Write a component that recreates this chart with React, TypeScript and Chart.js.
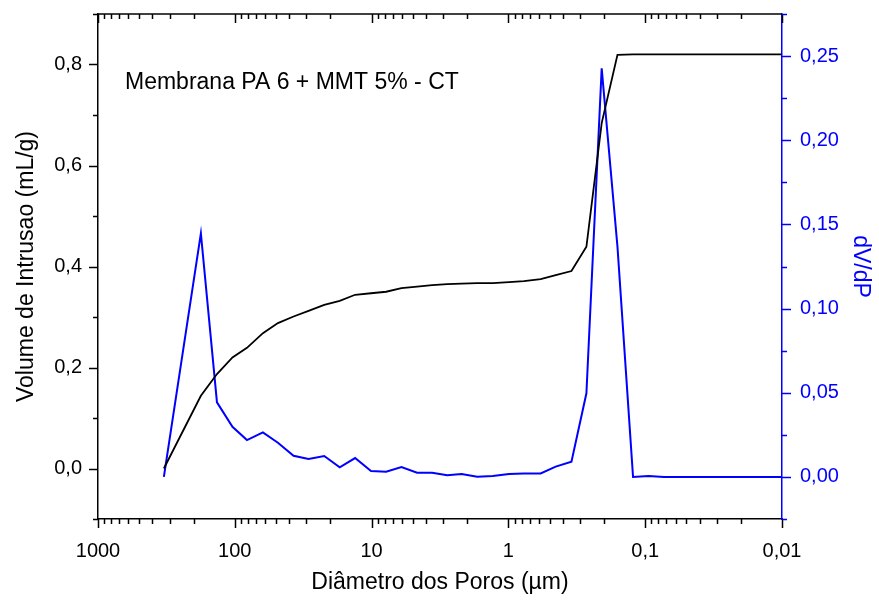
import React, { useEffect, useRef } from "react";
import { Chart, registerables } from "chart.js";

Chart.register(...registerables);

// Pore diameter (µm) for each measured point
const poreDiameters = [
  330, 177, 135, 104, 81.5, 62.3, 48.4, 37.2, 28.9, 22.2,
  17.1, 13.2, 10.1, 7.83, 6.05, 4.65, 3.61, 2.8, 2.2, 1.69,
  1.3, 0.99, 0.77, 0.581, 0.451, 0.346, 0.269, 0.208, 0.1595, 0.1227,
  0.0946, 0.0728, 0.056, 0.043, 0.033, 0.0255, 0.0196, 0.0151, 0.0116, 0.0101,
];

// Cumulative intrusion volume (mL/g)
const intrusionVolume = [
  0.0, 0.144, 0.187, 0.22, 0.239, 0.268, 0.288, 0.301, 0.312, 0.324,
  0.332, 0.344, 0.347, 0.35, 0.357, 0.36, 0.363, 0.365, 0.366, 0.367,
  0.367, 0.369, 0.371, 0.375, 0.383, 0.391, 0.439, 0.684, 0.819, 0.82,
  0.82, 0.82, 0.82, 0.82, 0.82, 0.82, 0.82, 0.82, 0.82, 0.82,
];

// dV/dP
const dVdP = [
  0.0, 0.1447, 0.0443, 0.0298, 0.0219, 0.0265, 0.0203, 0.0126, 0.0106, 0.0124,
  0.0057, 0.0112, 0.0035, 0.0031, 0.0059, 0.0025, 0.0025, 0.001, 0.0017, 0.0001,
  0.0005, 0.0017, 0.0021, 0.0021, 0.0061, 0.009, 0.0497, 0.2427, 0.1368, 0.0,
  0.0005, 0.0, 0.0, 0.0, 0.0, 0.0, 0.0, 0.0, 0.0, 0.0,
];

const xMajorTicks = [1000, 100, 10, 1, 0.1, 0.01];
const xTickLabels = ["1000", "100", "10", "1", "0,1", "0,01"];
const yLeftTicks = [0, 0.2, 0.4, 0.6, 0.8];
const yLeftMinorTicks = [-0.1, 0.1, 0.3, 0.5, 0.7, 0.9];
const yRightTicks = [0, 0.05, 0.1, 0.15, 0.2, 0.25];
const yRightMinorTicks = [-0.025, 0.025, 0.075, 0.125, 0.175, 0.225, 0.275];

const annotationText = "Membrana PA 6 + MMT 5% - CT";
const FONT = '"Liberation Sans", Arial, Helvetica, sans-serif';
const BLUE = "#0000ff";

const ticksPlugin = {
  id: "originTicks",
  afterDraw(chart: any) {
    const { ctx, chartArea: a, scales } = chart;
    const xs = scales.x;
    const yl = scales.y;
    const yr = scales.y1;
    const seg = (x1: number, y1: number, x2: number, y2: number) => {
      ctx.beginPath();
      ctx.moveTo(x1, y1);
      ctx.lineTo(x2, y2);
      ctx.stroke();
    };
    ctx.save();
    ctx.lineWidth = 1.5;
    ctx.strokeStyle = "#000";
    // top frame
    seg(a.left, a.top, a.right, a.top);
    // x ticks (major + minor)
    const majorLen = 9;
    const minorLen = 5;
    for (const v of xMajorTicks) {
      const px = Math.round(xs.getPixelForValue(v)) + 0.5;
      seg(px, a.bottom, px, a.bottom + majorLen);
      seg(px, a.top, px, a.top + majorLen);
      if (v > 0.01) {
        for (let m = 2; m <= 9; m++) {
          const mv = (v / 10) * m;
          const mp = Math.round(xs.getPixelForValue(mv)) + 0.5;
          seg(mp, a.bottom, mp, a.bottom + minorLen);
          seg(mp, a.top, mp, a.top + minorLen);
        }
      }
    }
    // left ticks
    for (const v of yLeftTicks) {
      const py = Math.round(yl.getPixelForValue(v)) + 0.5;
      seg(a.left - majorLen, py, a.left, py);
    }
    for (const v of yLeftMinorTicks) {
      const py = Math.round(yl.getPixelForValue(v)) + 0.5;
      seg(a.left - minorLen, py, a.left, py);
    }
    // right ticks
    ctx.strokeStyle = BLUE;
    for (const v of yRightTicks) {
      const py = Math.round(yr.getPixelForValue(v)) + 0.5;
      seg(a.right, py, a.right + majorLen, py);
    }
    for (const v of yRightMinorTicks) {
      const py = Math.round(yr.getPixelForValue(v)) + 0.5;
      seg(a.right, py, a.right + minorLen, py);
    }
    // annotation
    ctx.fillStyle = "#000";
    ctx.font = `23px ${FONT}`;
    ctx.textAlign = "left";
    ctx.textBaseline = "alphabetic";
    ctx.fillText(annotationText, a.left + 27, 89);
    ctx.restore();
  },
};

const noPad = (s: any) => {
  s.paddingTop = 0;
  s.paddingBottom = 0;
  s.paddingLeft = 0;
  s.paddingRight = 0;
};

export default function App() {
  const canvasRef = useRef<HTMLCanvasElement | null>(null);

  useEffect(() => {
    const canvas = canvasRef.current;
    if (!canvas) return;
    const chart = new Chart(canvas, {
      type: "line",
      data: {
        datasets: [
          {
            label: "Volume de Intrusao",
            data: poreDiameters.map((d, i) => ({ x: d, y: intrusionVolume[i] })),
            borderColor: "#000000",
            backgroundColor: "#000000",
            borderWidth: 1.8,
            pointRadius: 0,
            tension: 0,
            yAxisID: "y",
          },
          {
            label: "dV/dP",
            data: poreDiameters.map((d, i) => ({ x: d, y: dVdP[i] })),
            borderColor: BLUE,
            backgroundColor: BLUE,
            borderWidth: 2,
            pointRadius: 0,
            tension: 0,
            yAxisID: "y1",
          },
        ],
      },
      options: {
        responsive: false,
        animation: false,
        devicePixelRatio: 1,
        layout: { padding: { top: 14, left: 0, right: 0, bottom: 0 } },
        plugins: {
          legend: { display: false },
          tooltip: { enabled: false },
        },
        scales: {
          x: {
            type: "logarithmic",
            position: "bottom",
            min: 0.01,
            max: 1000,
            reverse: true,
            afterBuildTicks: (s: any) => {
              s.ticks = xMajorTicks.map((v) => ({ value: v }));
            },
            afterFit: (s: any) => {
              s.height = 82;
              noPad(s);
            },
            grid: { display: false, drawTicks: false, tickLength: 0 },
            border: { display: true, color: "#000", width: 1.5 },
            ticks: {
              color: "#000",
              font: { family: FONT, size: 20 },
              padding: 20,
              maxRotation: 0,
              autoSkip: false,
              callback: (value: any) => {
                const i = xMajorTicks.findIndex((t) => Math.abs(t - Number(value)) < t * 1e-6);
                return i >= 0 ? xTickLabels[i] : "";
              },
            },
            title: {
              display: true,
              text: "Diâmetro dos Poros (µm)",
              color: "#000",
              font: { family: FONT, size: 23 },
              padding: { top: 0, bottom: 5 },
            },
          },
          y: {
            type: "linear",
            position: "left",
            min: -0.1,
            max: 0.9,
            afterBuildTicks: (s: any) => {
              s.ticks = yLeftTicks.map((v) => ({ value: v }));
            },
            afterFit: (s: any) => {
              s.width = 98;
              noPad(s);
            },
            grid: { display: false, drawTicks: false, tickLength: 0 },
            border: { display: true, color: "#000", width: 1.5 },
            ticks: {
              color: "#000",
              font: { family: FONT, size: 20 },
              padding: 16,
              callback: (value: any) => Number(value).toFixed(1).replace(".", ","),
            },
            title: {
              display: true,
              text: "Volume de Intrusao (mL/g)",
              color: "#000",
              font: { family: FONT, size: 23 },
              padding: { top: 13, bottom: 0 },
            },
          },
          y1: {
            type: "linear",
            position: "right",
            min: -0.025,
            max: 0.275,
            afterBuildTicks: (s: any) => {
              s.ticks = yRightTicks.map((v) => ({ value: v }));
            },
            afterFit: (s: any) => {
              s.width = 97;
              noPad(s);
            },
            grid: { display: false, drawTicks: false, tickLength: 0 },
            border: { display: true, color: BLUE, width: 1.5 },
            ticks: {
              color: BLUE,
              font: { family: FONT, size: 20 },
              padding: 18,
              callback: (value: any) => Number(value).toFixed(2).replace(".", ","),
            },
            title: {
              display: true,
              text: "dV/dP",
              color: BLUE,
              font: { family: FONT, size: 23 },
              padding: { top: 5, bottom: 0 },
            },
          },
        },
      },
      plugins: [ticksPlugin],
    });
    return () => chart.destroy();
  }, []);

  return (
    <div style={{ position: "fixed", left: 0, top: 0, width: 879, height: 601, background: "#fff" }}>
      <canvas ref={canvasRef} width={879} height={601} style={{ display: "block" }} />
    </div>
  );
}
